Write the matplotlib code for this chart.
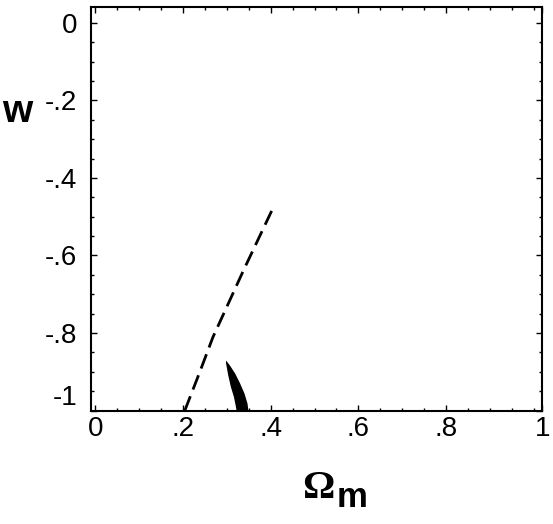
import numpy as np
import matplotlib.pyplot as plt
from matplotlib.ticker import MultipleLocator
plt.switch_backend('agg')

# dashed curve (Omega_m, w)
dash_om = [0.204, 0.237, 0.268, 0.338, 0.405]
dash_w = [-1.0, -0.904, -0.811, -0.638, -0.478]

# filled black contour: right edge top->bottom, then left edge bottom->top
right_om = [0.298, 0.307, 0.319, 0.330, 0.340, 0.347, 0.349]
right_w = [-0.871, -0.884, -0.905, -0.930, -0.956, -0.982, -1.0]
left_om = [0.322, 0.320, 0.316, 0.309, 0.303, 0.298]
left_w = [-1.0, -0.987, -0.965, -0.939, -0.909, -0.878]

xticks = [0, 0.2, 0.4, 0.6, 0.8, 1.02]
xlabels = ['0', '.2', '.4', '.6', '.8', '1']
yticks = [0, -0.2, -0.4, -0.6, -0.8, -1]
ylabels = ['0', '-.2', '-.4', '-.6', '-.8', '-1']

fig = plt.figure(figsize=(5.53, 5.24), dpi=100)
ax = fig.add_axes([0.1646, 0.2166, 0.8164, 0.7691])

ax.fill(right_om + left_om, right_w + left_w, color='black', lw=0)
ax.plot(dash_om, dash_w, color='black', lw=2, dashes=(5.5, 2.6))

ax.set_xlim(-0.01, 1.02)
ax.set_ylim(-1, 0.04)
ax.set_xticks(xticks)
ax.set_xticklabels(xlabels)
ax.set_yticks(yticks)
ax.set_yticklabels(ylabels)
ax.xaxis.set_minor_locator(MultipleLocator(0.05))
ax.yaxis.set_minor_locator(MultipleLocator(0.05))
ax.tick_params(which='both', direction='in', top=True, right=True, width=1)
ax.tick_params(which='major', length=4, labelsize=20, pad=4)
ax.tick_params(which='minor', length=2)
ax.tick_params(axis='y', pad=10)
for lab in ax.get_xticklabels() + ax.get_yticklabels():
    lab.set_family('Liberation Sans')
ax.get_yticklabels()[-1].set_va('bottom')
for s in ax.spines.values():
    s.set_linewidth(1.5)

fig.text(17/553, 1-112/524, 'w', fontsize=28, fontweight='bold',
         family='Liberation Sans', ha='center', va='center')
fig.text(302/553, 1-498/524, '\u03a9', fontsize=29, fontweight='bold',
         family='Liberation Serif', ha='left', va='baseline')
fig.text(337/553, 1-507/524, 'm', fontsize=25, fontweight='bold',
         family='Liberation Sans', ha='left', va='baseline')

fig.savefig('out.png', dpi=100)
